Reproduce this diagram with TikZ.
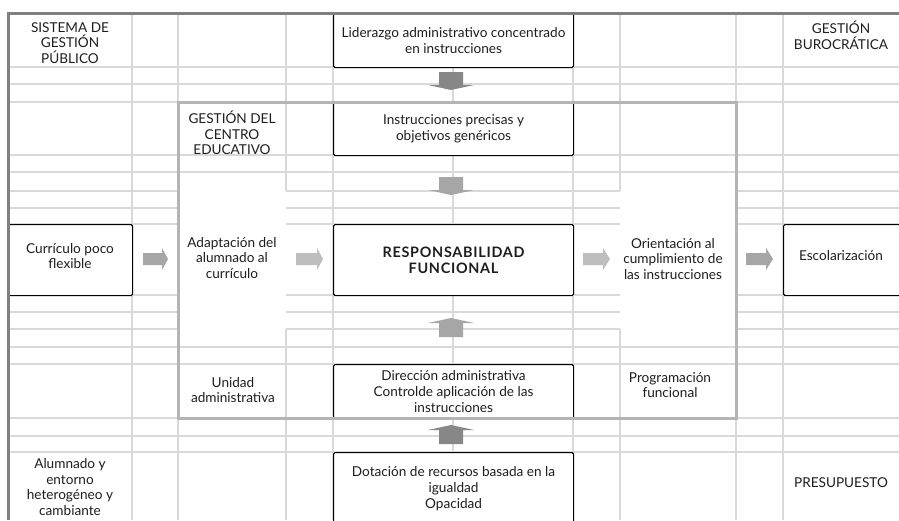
\documentclass[tikz,border=0pt]{standalone}
\usepackage{fontspec}
\setmainfont{Lato}
\definecolor{gridc}{HTML}{D9D9D9}
\definecolor{outerc}{HTML}{808080}
\definecolor{innerc}{HTML}{B4B4B4}
\definecolor{arrdark}{HTML}{878787}
\definecolor{arrmid}{HTML}{A6A6A6}
\definecolor{arrlight}{HTML}{BEBEBE}
\definecolor{txtc}{HTML}{1E1E1E}
\newcommand\fs{\fontsize{13.6}{15.6}\selectfont}
\newcommand\blockR[4]{\fill[#1] (#2,253) -- (#3,253) -- (#3,248) -- (#4,259) -- (#3,270) -- (#3,265) -- (#2,265) -- cycle;}
\newcommand\blockV[4]{\fill[#1] (439,#2) -- (463,#2) -- (463,#3) -- (474,#3) -- (451,#4) -- (428,#3) -- (439,#3) -- cycle;}
\begin{document}
\begin{tikzpicture}[x=1pt,y=-1pt,
  grid/.style={draw=gridc, line width=1.4pt},
  frameA/.style={draw=outerc, line width=3pt},
  frameB/.style={draw=innerc, line width=3pt},
  box/.style={draw=black, line width=1.1pt, fill=white, rounded corners=1.5pt, inner sep=0pt, anchor=north west},
  txt/.style={align=center, font=\fs, inner sep=0pt, text=txtc}]
\useasboundingbox (0,0) rectangle (899,520);
\fill[white] (0,0) rectangle (899,520);
% grid lines
\foreach \y in {67,84,102,155,172,347,364,418,436,452}
  \draw[grid] (8,\y) -- (899,\y);
\foreach \y in {191,208,224,295,312,329} {
  \draw[grid] (8,\y) -- (178,\y);
  \draw[grid] (286,\y) -- (620,\y);
  \draw[grid] (736,\y) -- (899,\y);
}
\foreach \x in {132,178,333,453,573,736,783}
  \draw[grid] (\x,13) -- (\x,520);
\foreach \x in {286,620} {
  \draw[grid] (\x,13) -- (\x,191);
  \draw[grid] (\x,329) -- (\x,520);
}
% boxes
\node[box, txt, minimum width=240pt, minimum height=54pt] (lid) at (333,13) {Liderazgo administrativo concentrado\\en instrucciones};
\node[box, txt, minimum width=240pt, minimum height=53pt] (ins) at (333,102) {Instrucciones precisas y\\objetivos genéricos};
\node[box, txt, minimum width=240pt, minimum height=71pt, font=\fontsize{14.4}{16.4}\selectfont\bfseries\addfontfeature{LetterSpace=5}] (res) at (333,224) {RESPONSABILIDAD\\FUNCIONAL};
\node[box, txt, minimum width=240pt, minimum height=54pt] (dir) at (333,364) {Dirección administrativa\\Controlde aplicación de las\\instrucciones};
\node[box, txt, minimum width=240pt, minimum height=72pt] (dot) at (333,452) {Dotación de recursos basada en la\\igualdad\\Opacidad};
\node[box, txt, minimum width=124pt, minimum height=71pt] (cur) at (8,224) {};
\node[txt] (curt) at (70,256) {Currículo poco\\flexible};
\node[box, txt, minimum width=124pt, minimum height=71pt] (esc) at (783,224) {};
\node[txt] (esct) at (841,256) {Escolarización};
% plain cell texts
\node[txt] (sis) at (70,43) {SISTEMA DE\\GESTIÓN\\PÚBLICO};
\node[txt] (bur) at (841,35) {GESTIÓN\\BUROCRÁTICA};
\node[txt] (gce) at (232,133) {GESTIÓN DEL\\CENTRO\\EDUCATIVO};
\node[txt] (ada) at (232,258) {Adaptación del\\alumnado al\\currículo};
\node[txt] (ori) at (673,259) {Orientación al\\cumplimiento de\\las instrucciones};
\node[txt] (uni) at (233,390) {Unidad\\administrativa};
\node[txt] (pro) at (670,385) {Programación\\funcional};
\node[txt] (alu) at (70,487) {Alumnado y\\entorno\\heterogéneo y\\cambiante};
\node[txt] (pre) at (841,483) {PRESUPUESTO};
% block arrows
\blockV{arrdark}{72}{85}{90}
\blockV{arrmid}{177}{190}{195}
\blockV{arrmid}{337}{323}{318}
\blockV{arrdark}{444}{430}{425}
\blockR{arrmid}{143}{162}{168}
\blockR{arrlight}{296}{317}{323}
\blockR{arrlight}{583}{603}{610}
\blockR{arrmid}{746}{766}{773}
% frames
\draw[frameA] (8,520) -- (8,13) -- (899,13);
\draw[frameB] (178,102) rectangle (736,418);
\end{tikzpicture}
\end{document}
